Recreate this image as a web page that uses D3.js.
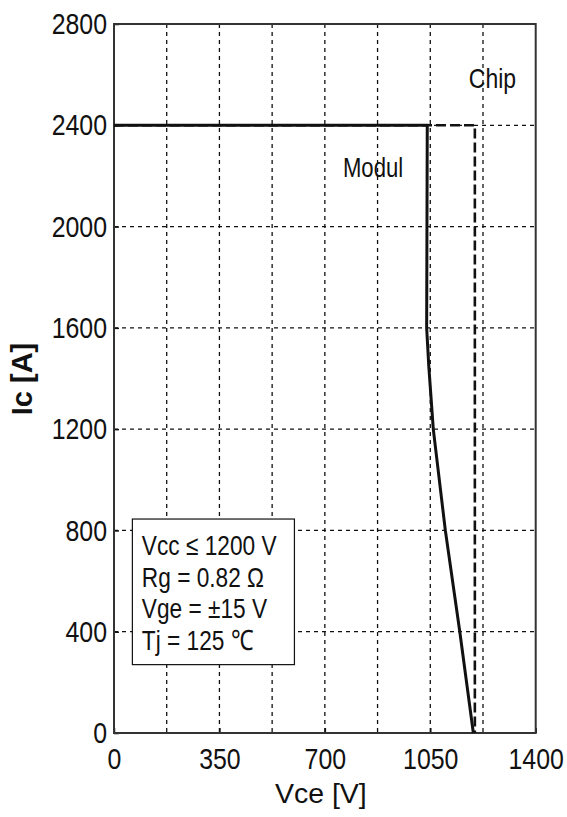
<!DOCTYPE html>
<html>
<head>
<meta charset="utf-8">
<script src="https://cdn.jsdelivr.net/npm/d3@7"></script>
<style>
  html, body { margin: 0; padding: 0; background: #fff; }
  svg { display: block; font-family: "Liberation Sans", Arial, sans-serif; }
</style>
</head>
<body>
<svg id="chart" width="567" height="817"></svg>
<script>
// Reverse bias safe operating area: collector current vs. collector-emitter voltage
const vceTicks = [0, 350, 700, 1050, 1400];
const icTicks = [0, 400, 800, 1200, 1600, 2000, 2400, 2800];
const vceGrid = [175, 350, 525, 700, 875, 1050, 1225];
const icGrid = [400, 800, 1200, 1600, 2000, 2400];

// Module limit (solid)
const modulVce = [0, 1040, 1038, 1045, 1060, 1075, 1100, 1148, 1193];
const modulIc  = [2400, 2400, 1600, 1450, 1200, 1050, 800, 400, 0];

// Chip limit (dashed)
const chipVce = [0, 1198, 1198];
const chipIc  = [2400, 2400, 0];

const conditions = ["Vcc \u2264 1200 V", "Rg = 0.82 \u03A9", "Vge = \u00B115 V", "Tj = 125 \u2103"];

const svg = d3.select("#chart");
const m = { left: 114, right: 535.7, top: 24, bottom: 733 };

const x = d3.scaleLinear().domain([0, 1400]).range([m.left, m.right]);
const y = d3.scaleLinear().domain([0, 2800]).range([m.bottom, m.top]);

const ink = "#111";

// grid
const grid = svg.append("g").attr("stroke", ink).attr("stroke-width", 1.3)
  .attr("stroke-dasharray", "4,4");
grid.selectAll("line.v").data(vceGrid).join("line").attr("class", "v")
  .attr("x1", d => x(d)).attr("x2", d => x(d))
  .attr("y1", m.top).attr("y2", m.bottom);
grid.selectAll("line.h").data(icGrid).join("line").attr("class", "h")
  .attr("x1", m.left).attr("x2", m.right)
  .attr("y1", d => y(d)).attr("y2", d => y(d));

// test-condition box
const box = { x0: 61, x1: 599, y0: 270, y1: 845 };
svg.append("rect")
  .attr("x", x(box.x0)).attr("y", y(box.y1))
  .attr("width", x(box.x1) - x(box.x0)).attr("height", y(box.y0) - y(box.y1))
  .attr("fill", "#fff").attr("stroke", ink).attr("stroke-width", 1.2);
const condG = svg.append("g");
conditions.forEach((t, i) => {
  condG.append("text")
    .attr("transform", `translate(${x(box.x0) + 9.5},${y(box.y1) + 36 + i * 31.7}) scale(0.81,1)`)
    .attr("font-size", 28).attr("fill", ink).text(t);
});

// axes
const yAxis = d3.axisLeft(y).tickValues(icTicks).tickSizeInner(-5).tickSizeOuter(0).tickPadding(7)
  .tickFormat(d3.format("d"));
const gy = svg.append("g").attr("transform", `translate(${m.left},0)`).call(yAxis);
gy.select(".domain").remove();
gy.selectAll(".tick line").attr("stroke", ink).attr("stroke-width", 1.5);
gy.selectAll(".tick text").attr("font-size", 30).attr("fill", ink)
  .attr("font-family", "Liberation Sans, Arial, sans-serif")
  .attr("transform", "scale(0.83,1)").attr("x", -7 / 0.83);

const xAxis = d3.axisBottom(x).tickValues(vceTicks).tickSizeInner(-5).tickSizeOuter(0).tickPadding(15)
  .tickFormat(d3.format("d"));
const gx = svg.append("g").attr("transform", `translate(0,${m.bottom})`).call(xAxis);
gx.select(".domain").remove();
gx.selectAll(".tick line").attr("stroke", ink).attr("stroke-width", 1.5);
gx.selectAll(".tick text").attr("font-size", 30).attr("fill", ink)
  .attr("font-family", "Liberation Sans, Arial, sans-serif")
  .attr("transform", "scale(0.83,1)").attr("x", 0);
gx.selectAll(".tick").each(function (d) {
  d3.select(this).select("text").attr("x", 0);
});

// frame
svg.append("rect")
  .attr("x", m.left).attr("y", m.top)
  .attr("width", m.right - m.left).attr("height", m.bottom - m.top)
  .attr("fill", "none").attr("stroke", "#333").attr("stroke-width", 2);

// curves
const line = d3.line().x(d => x(d[0])).y(d => y(d[1]));
svg.append("path")
  .datum(chipVce.map((v, i) => [v, chipIc[i]]))
  .attr("d", line).attr("fill", "none").attr("stroke", ink)
  .attr("stroke-width", 2.6).attr("stroke-dasharray", "10,4");
svg.append("path")
  .datum(modulVce.map((v, i) => [v, modulIc[i]]))
  .attr("d", line).attr("fill", "none").attr("stroke", ink)
  .attr("stroke-width", 3).attr("stroke-linejoin", "miter");

// curve labels
svg.append("text")
  .attr("transform", `translate(${x(760)},${y(2195)}) scale(0.79,1)`)
  .attr("font-size", 28).attr("fill", ink).text("Modul");
svg.append("text")
  .attr("transform", `translate(${x(1178)},${y(2546)}) scale(0.82,1)`)
  .attr("font-size", 28).attr("fill", ink).text("Chip");

// axis titles
svg.append("text")
  .attr("x", (m.left + m.right) / 2 - 4).attr("y", 803)
  .attr("text-anchor", "middle").attr("font-size", 28.5).attr("fill", ink)
  .text("Vce [V]");
svg.append("text")
  .attr("transform", `translate(32.3,379) rotate(-90)`)
  .attr("text-anchor", "middle").attr("font-size", 29).attr("font-weight", "bold")
  .attr("fill", ink).text("Ic [A]");
</script>
</body>
</html>
